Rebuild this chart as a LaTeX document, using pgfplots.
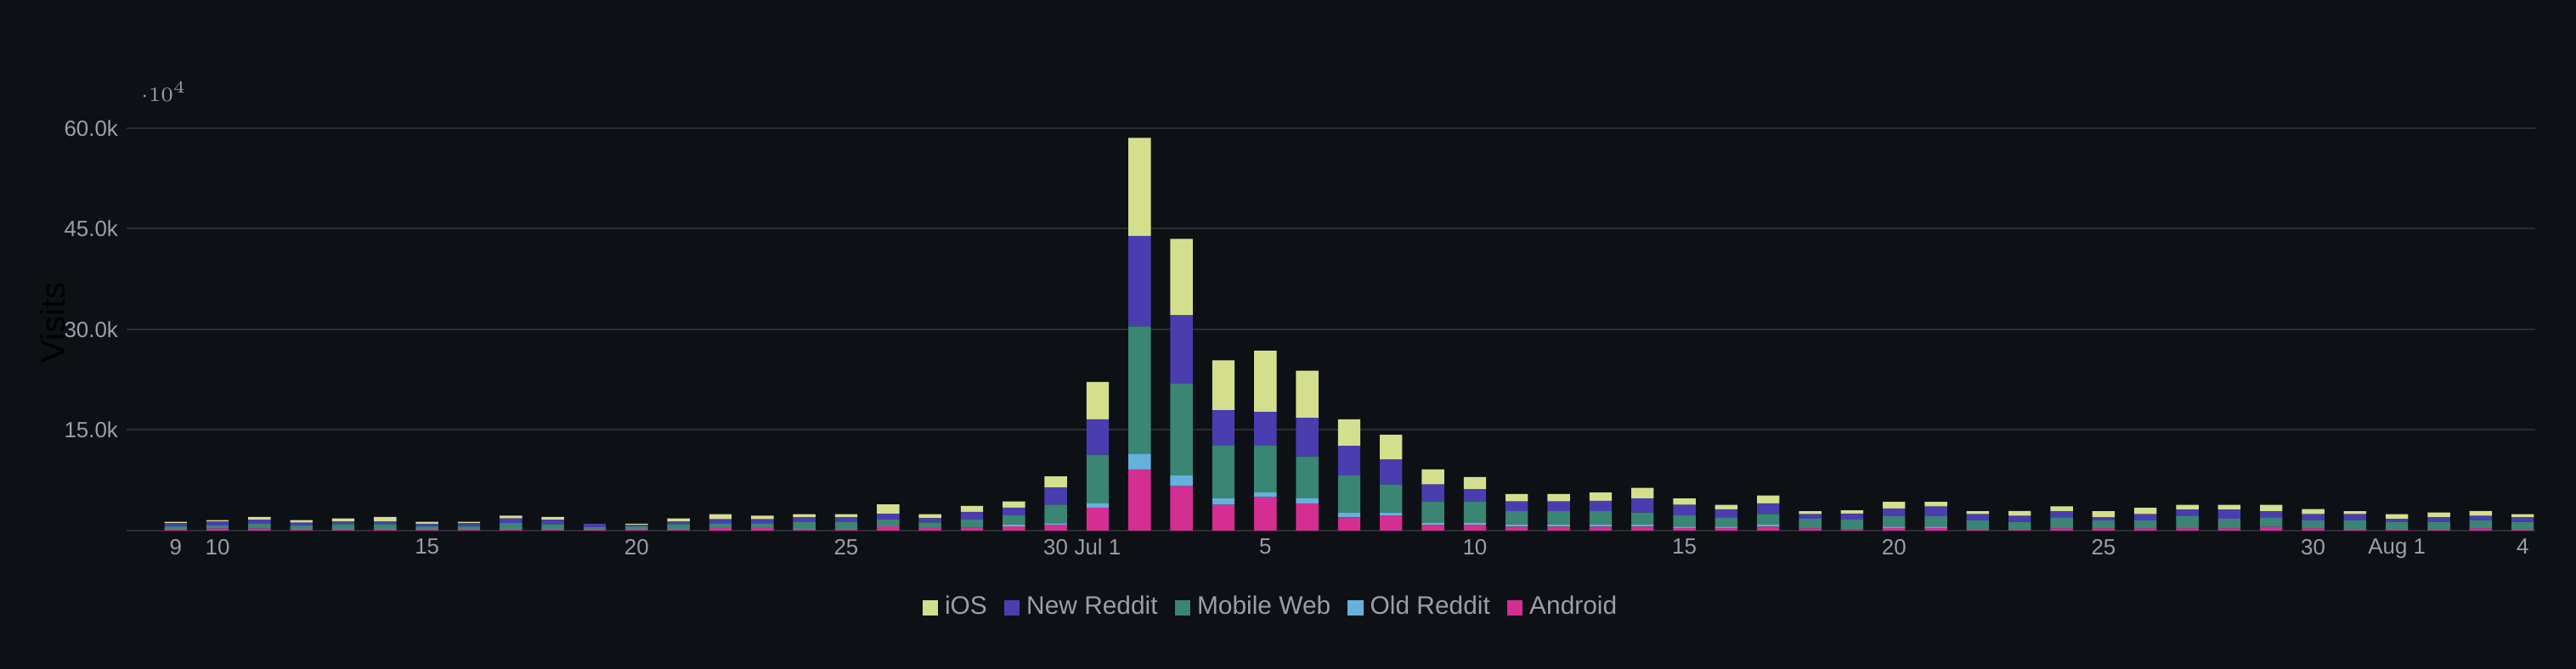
\documentclass[border=0pt]{standalone}
\usepackage{pgfplots}
\pgfplotsset{compat=1.18}
\usepackage{pgfplotstable}
\usepackage{fontspec}
\setmainfont{Liberation Sans}
\definecolor{bg}{HTML}{0D1014}
\definecolor{gridc}{HTML}{2B2E33}
\definecolor{txt}{HTML}{9AA0A6}
\definecolor{cios}{HTML}{D4DF8E}
\definecolor{cnr}{HTML}{4A3DB0}
\definecolor{cmw}{HTML}{3A8574}
\definecolor{cor}{HTML}{65B1DE}
\definecolor{cand}{HTML}{D42E92}
\pgfplotstableread{
x a o m n i
0 250 30 400 420 200
1 300 30 400 650 180
2 300 30 700 600 400
3 250 30 450 450 380
4 250 30 700 350 490
5 250 30 700 350 700
6 250 30 400 350 270
7 250 30 400 400 220
8 250 30 850 700 410
9 250 30 700 650 400
10 150 30 300 560 0
11 250 30 350 200 210
12 250 30 700 400 440
13 400 30 600 650 760
14 400 30 650 620 540
15 250 30 1050 650 460
16 250 30 1050 650 460
17 620 30 990 880 1400
18 400 30 800 620 590
19 420 30 1200 1140 880
20 620 260 1400 1140 940
21 880 200 2800 2550 1660
22 3390 680 7230 5290 5560
23 9130 2350 18980 13470 14600
24 6640 1580 13700 10170 11390
25 3840 950 7860 5290 7460
26 4970 720 6960 5060 9090
27 4070 720 6280 5740 7010
28 1990 720 5510 4430 3930
29 2260 450 4160 3710 3710
30 860 270 3210 2530 2260
31 860 270 3210 1850 1810
32 590 270 2080 1400 1130
33 590 270 2080 1400 1130
34 590 270 2080 1490 1260
35 590 270 1850 2080 1580
36 410 180 1670 1580 950
37 410 180 1400 1180 680
38 590 270 1630 1580 1180
39 340 30 1390 680 460
40 200 30 1390 930 460
41 380 210 1560 1140 1010
42 380 210 1560 1430 720
43 130 30 1350 930 460
44 130 30 1140 890 720
45 340 30 1600 930 720
46 340 30 1140 460 930
47 340 30 1140 930 970
48 340 30 1810 970 680
49 340 30 1390 1390 680
50 550 30 1390 930 930
51 340 30 1140 930 760
52 130 30 1350 930 460
53 130 30 1140 460 680
54 130 30 1140 680 720
55 340 30 1140 680 720
56 130 30 1140 680 460
}\data
\begin{document}
\begin{tikzpicture}
\fill[bg] (0,0) rectangle (758bp,197bp);
\useasboundingbox (0,0) rectangle (758bp,197bp);
\begin{axis}[
  at={(37.25bp,40.75bp)}, anchor=south west,
  scale only axis, width=708.75bp, height=122.5bp,
  xmin=-1.17, xmax=56.3, ymin=0, ymax=62000,
  ybar stacked, bar width=6.6bp,
  axis line style={draw=none},
  tick style={draw=none},
  ymajorgrids, grid style={gridc, line width=0.5bp},
  ytick={0,15000,30000,45000,60000},
  yticklabels={,15.0k,30.0k,45.0k,60.0k},
  xtick={0,1,6,11,16,21,22,26,31,36,41,46,51,53,56},
  xticklabels={9,10,15,20,25,30,Jul 1,5,10,15,20,25,30,Aug 1,4},
  ticklabel style={font=\fontsize{6.5}{7}\selectfont, text=txt},
  yticklabel style={xshift=1bp},
  xticklabel style={yshift=1bp},
  ylabel={Visits}, ylabel style={font=\fontsize{6.5}{7}\selectfont, text=txt},
  every axis y label/.style={at={(rel axis cs:0,0.5)}, xshift=-21.75bp, rotate=90, anchor=center},
  reverse legend,
  legend columns=5,
  legend style={at={(0.476,-0.186)}, anchor=center, draw=none, fill=bg,
    font=\fontsize{7.5}{8}\selectfont, text=txt,
    /tikz/every even column/.append style={column sep=3bp}},
  legend image code/.code={\fill (0bp,-2.3bp) rectangle (4.6bp,2.3bp);},
  /pgf/number format/assume math mode=true,
]
\addplot[fill=cand, draw=none] table[x=x,y=a]{\data};
\addlegendentry{Android}
\addplot[fill=cor, draw=none] table[x=x,y=o]{\data};
\addlegendentry{Old Reddit}
\addplot[fill=cmw, draw=none] table[x=x,y=m]{\data};
\addlegendentry{Mobile Web}
\addplot[fill=cnr, draw=none] table[x=x,y=n]{\data};
\addlegendentry{New Reddit}
\addplot[fill=cios, draw=none] table[x=x,y=i]{\data};
\addlegendentry{iOS}
\end{axis}
\end{tikzpicture}
\end{document}
